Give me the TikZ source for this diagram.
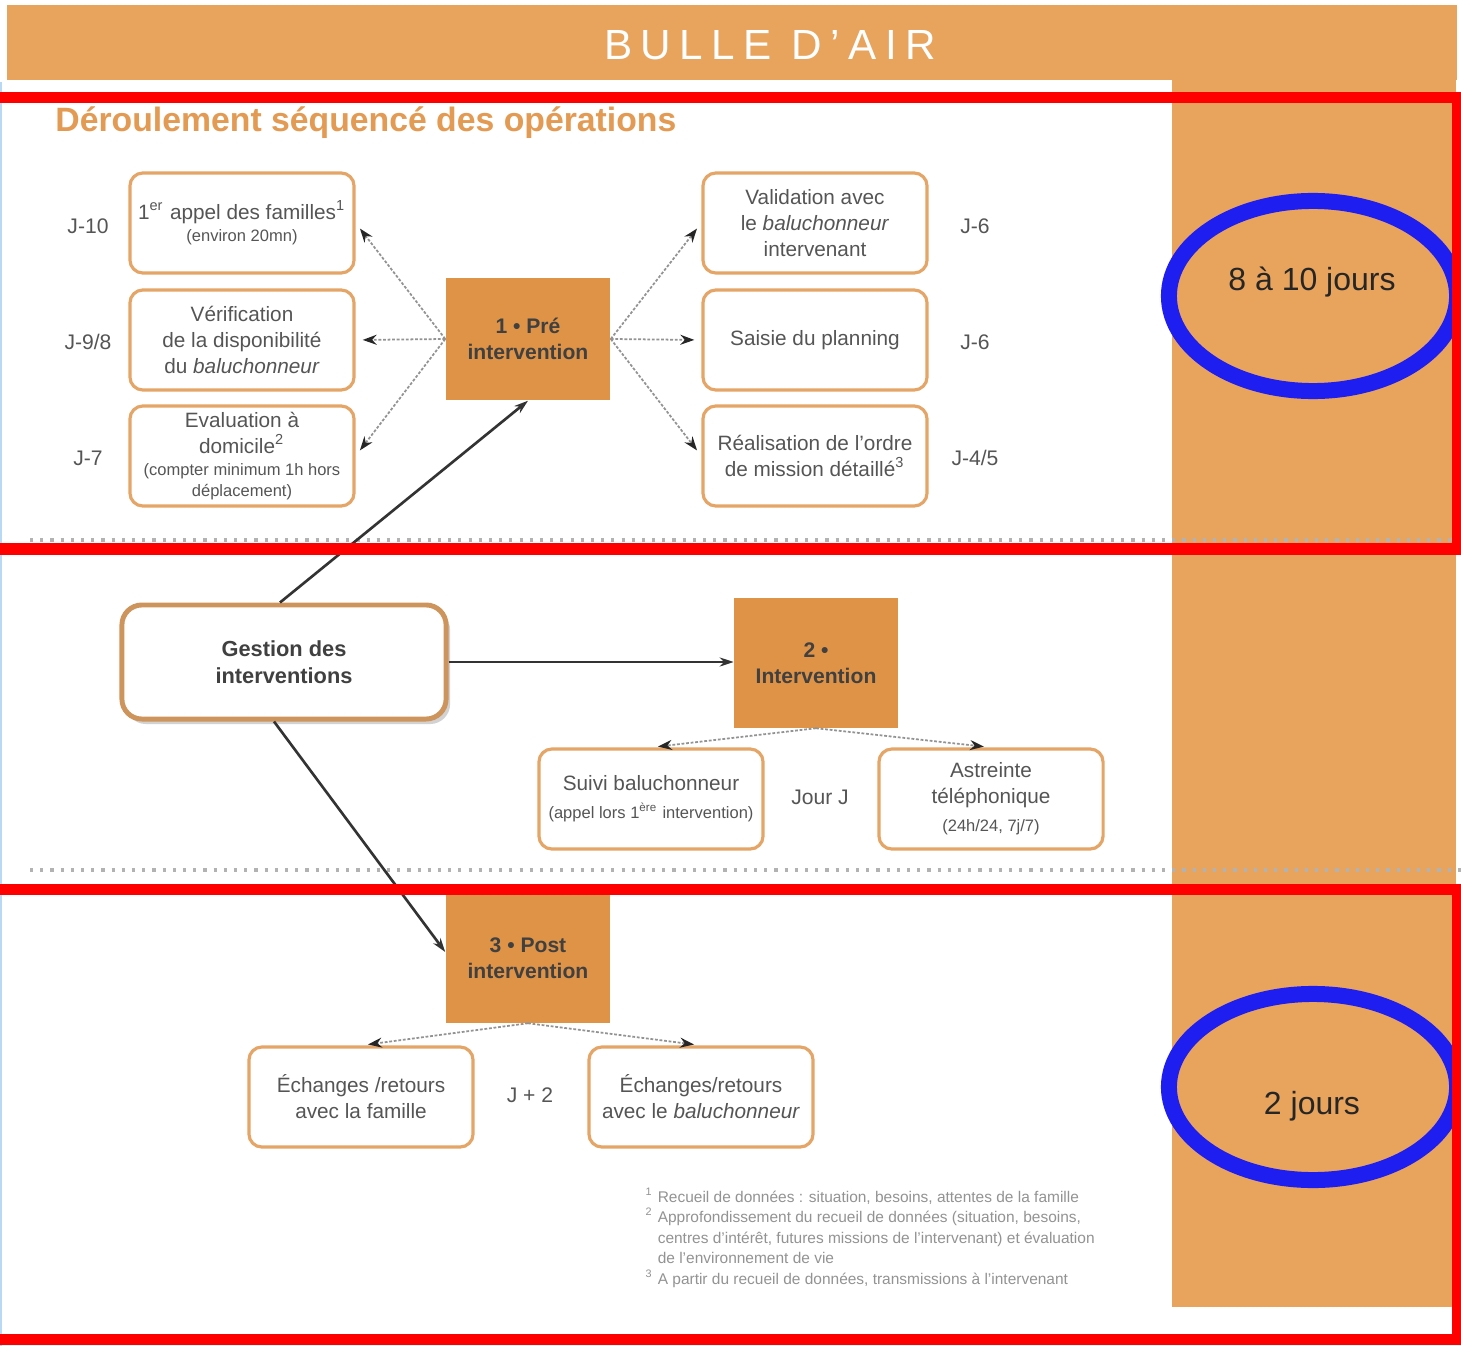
\documentclass[tikz,border=0pt]{standalone}
\usepackage{fontspec}
\setmainfont{Liberation Sans}
\newfontfamily\bandeau[LetterSpace=20]{Liberation Sans}
\usetikzlibrary{arrows.meta,shadows}

\definecolor{bande}{HTML}{E8A35C}
\definecolor{etapefond}{HTML}{DF9347}
\definecolor{bord}{HTML}{E4A566}
\definecolor{texte}{HTML}{555555}
\definecolor{titre}{HTML}{E39A52}
\definecolor{cercle}{HTML}{1E1EF0}
\definecolor{liseré}{HTML}{B8D8F5}

\newcommand{\petit}{\fontsize{4.7}{5.7}\selectfont}

\begin{document}
\begin{tikzpicture}[x=0.01cm,y=-0.01cm,
    tache/.style={draw=bord, line width=0.9pt, rounded corners=0.13cm, fill=white,
        minimum width=2.24cm, minimum height=1.0cm, align=center, inner sep=0pt,
        text=texte, font=\fontsize{5.9}{7.4}\selectfont},
    etape/.style={fill=etapefond, minimum width=1.64cm, align=center, inner sep=0pt,
        text=black!75, font=\bfseries\fontsize{6}{7.4}\selectfont},
    delai/.style={text=texte, font=\fontsize{6}{7.4}\selectfont},
    pointille/.style={draw=gray!85, dash pattern=on 0.8pt off 0.5pt, line width=0.5pt,
        -{Stealth[length=0.14cm,width=0.1cm,black!85]}, shorten >=2pt},
    fleche/.style={draw=black!80, line width=0.75pt,
        -{Stealth[length=0.14cm,width=0.09cm]}}]
\useasboundingbox (0,0) rectangle (1461,1346);
\clip (0,0) rectangle (1461,1346);

% fond et bandeaux
\fill[white] (0,0) rectangle (1461,1346);
\draw[liseré, line width=0.6pt] (1,82) -- (1,1346);
\fill[bande] (7,5) rectangle (1457,80);
\fill[bande] (1172,80) rectangle (1456,1307);
\node[text=white, font=\bandeau\fontsize{12}{14}\selectfont] (bulle) at (770,45) {BULLE D’AIR};
\node[anchor=west, text=titre, font=\bfseries\fontsize{9.6}{11}\selectfont] (deroul) at (43,123)
    {Déroulement séquencé des opérations};

% separations
\draw[gray!60, dotted, line width=0.9pt] (30,540) -- (1461,540);
\draw[gray!60, dotted, line width=0.9pt] (30,870) -- (1461,870);

% 1 pre intervention
\node[etape, minimum height=1.22cm] (pre) at (528,339) {1 • Pré\\intervention};
\node[tache] (appel) at (242,223) {1\textsuperscript{er} appel des familles\textsuperscript{1}\\[-1.1pt]{\petit (environ 20mn)}};
\node[tache] (verif) at (242,340) {Vérification\\de la disponibilité\\du \textit{baluchonneur}};
\node[tache] (evalu) at (242,456) {Evaluation à\\domicile\textsuperscript{2}\\[-1.1pt]{\petit (compter minimum 1h hors}\\[-1.7pt]{\petit déplacement)}};
\node[tache] (valid) at (815,223) {Validation avec\\le \textit{baluchonneur}\\intervenant};
\node[tache] (saisie) at (815,340) {Saisie du planning};
\node[tache] (ordre) at (815,456) {Réalisation de l'ordre\\de mission détaillé\textsuperscript{3}};
\node[delai] (j10) at (88,226) {J-10};
\node[delai] (j98) at (88,342) {J-9/8};
\node[delai] (j7) at (88,458) {J-7};
\node[delai] (j6a) at (975,226) {J-6};
\node[delai] (j6b) at (975,342) {J-6};
\node[delai] (j45) at (975,458) {J-4/5};

\draw[pointille] (pre.west) -- (appel.east);
\draw[pointille] (pre.west) -- (verif.east);
\draw[pointille] (pre.west) -- (evalu.east);
\draw[pointille] (pre.east) -- (valid.west);
\draw[pointille] (pre.east) -- (saisie.west);
\draw[pointille] (pre.east) -- (ordre.west);

% gestion et 2 intervention
\node[draw=bord!90!black, line width=1.4pt, rounded corners=0.2cm, fill=white,
    minimum width=3.24cm, minimum height=1.14cm, align=center, text=black!75,
    font=\bfseries\fontsize{6.2}{7.6}\selectfont,
    drop shadow={opacity=0.35, shadow xshift=0.04cm, shadow yshift=-0.05cm}]
    (gestion) at (284,662) {Gestion des\\interventions};
\node[etape, minimum height=1.29cm, minimum width=1.63cm] (interv) at (816,663) {2 •\\Intervention};
\node[tache] (suivi) at (651,799) {Suivi baluchonneur\\[0.6pt]{\petit (appel lors 1\textsuperscript{ère} intervention)}};
\node[tache] (astr) at (991,799) {Astreinte\\téléphonique\\[0.6pt]{\petit (24h/24, 7j/7)}};
\node[delai] (jourj) at (820,797) {Jour J};

\draw[fleche] ([xshift=-0.04cm]gestion.north) -- (pre.south);
\draw[fleche] (gestion.east) -- (gestion.east -| interv.west);
\draw[pointille] (interv.south) -- (suivi.north);
\draw[pointille] (interv.south) -- (astr.north);

% 3 post intervention
\node[etape, minimum height=1.29cm] (post) at (528,958) {3 • Post\\intervention};
\node[tache] (echfam) at (361,1097) {Échanges /retours\\avec la famille};
\node[tache] (echbal) at (701,1097) {Échanges/retours\\avec le \textit{baluchonneur}};
\node[delai] (jplus2) at (530,1095) {J + 2};

\draw[fleche] ([xshift=-0.1cm]gestion.south) -- ([yshift=0.06cm]post.west);
\draw[pointille] (post.south) -- (echfam.north);
\draw[pointille] (post.south) -- (echbal.north);

% notes
\node[anchor=north west, align=left, text=gray!85, inner sep=0pt,
    font=\fontsize{4.4}{5.85}\selectfont] (notes) at (645,1187)
    {\textsuperscript{1} Recueil de données : situation, besoins, attentes de la famille\\
     \textsuperscript{2} Approfondissement du recueil de données (situation, besoins,\\
     \phantom{\textsuperscript{2} }centres d’intérêt, futures missions de l’intervenant) et évaluation\\
     \phantom{\textsuperscript{2} }de l’environnement de vie\\
     \textsuperscript{3} A partir du recueil de données, transmissions à l’intervenant};

% durees
\draw[cercle, line width=0.16cm] (1313,296) ellipse [x radius=1.44cm, y radius=0.95cm];
\draw[cercle, line width=0.16cm] (1313,1087) ellipse [x radius=1.44cm, y radius=0.93cm];
\node[font=\fontsize{9.1}{11}\selectfont, text=black!85] (huitdix) at (1312,282) {8 à 10 jours};
\node[font=\fontsize{9.1}{11}\selectfont, text=black!85] (deuxj) at (1312,1106) {2 jours};

% cadres rouges
\draw[red, line width=0.11cm] (-20,98) rectangle (1457,549);
\draw[red, line width=0.11cm] (-20,889) rectangle (1457,1339);
\end{tikzpicture}
\end{document}
